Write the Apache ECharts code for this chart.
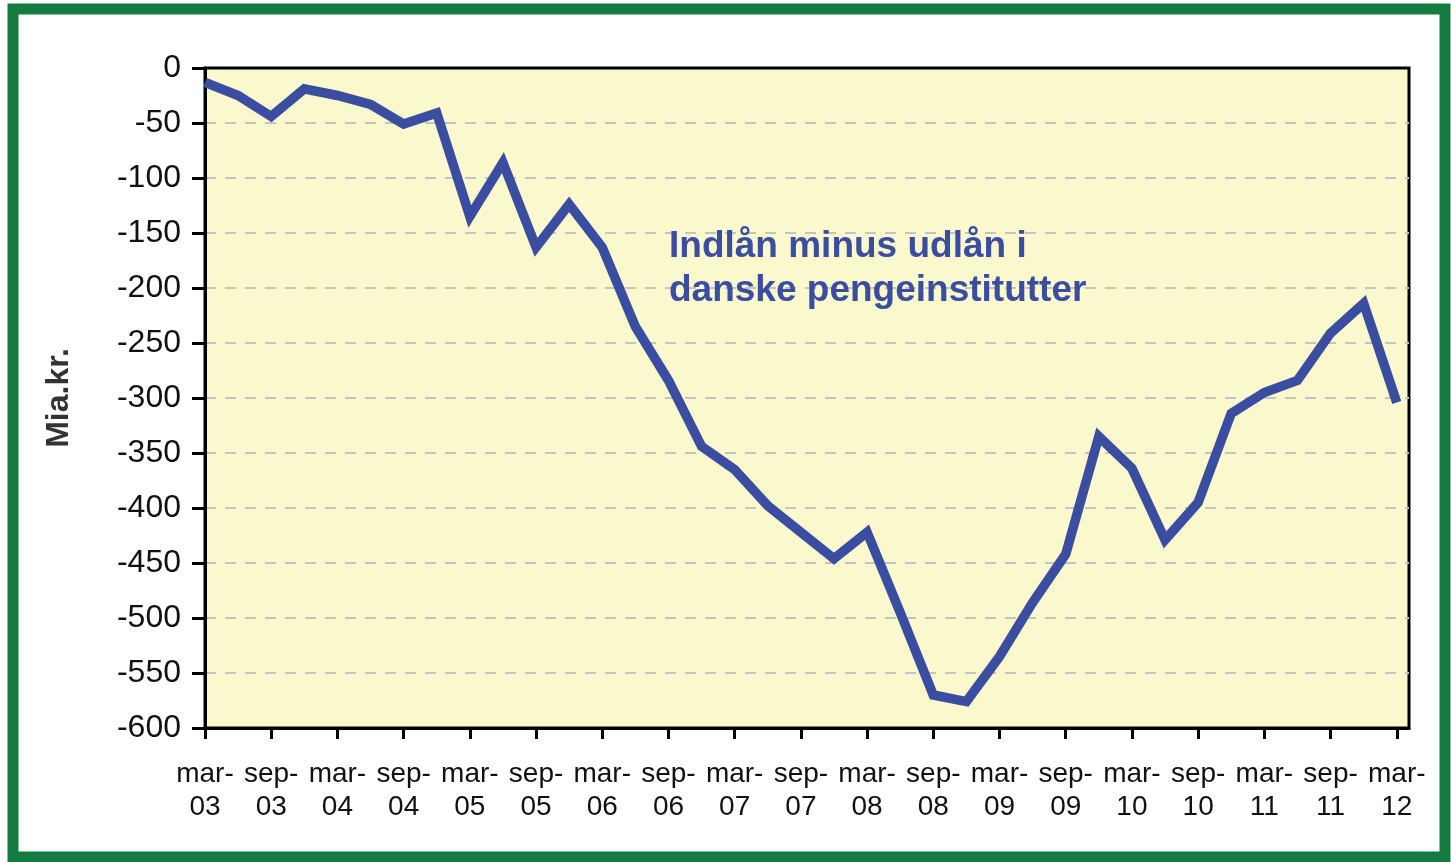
<!DOCTYPE html>
<html>
<head>
<meta charset="utf-8">
<title>Indlån minus udlån</title>
<script src="https://cdn.jsdelivr.net/npm/echarts@6/dist/echarts.min.js"></script>
<style>
  html, body { margin: 0; padding: 0; background: #fff; }
  #chart { width: 1451px; height: 862px; }
</style>
</head>
<body>
<div id="chart"></div>
<script>
// kvartalsdata, mar-03 .. mar-12 (Mia.kr.)
var values = [
  -13, -25, -44, -19, -25, -33, -51, -41, -135, -86,
  -163, -124, -163, -235, -284, -344, -365, -398, -422, -446,
  -422, -495, -570, -576, -535, -486, -442, -335, -364, -429,
  -395, -314, -295, -284, -241, -214, -304
];
// tick labels, one for every second quarter
var tickLabels = [
  "mar-\n03", "sep-\n03", "mar-\n04", "sep-\n04", "mar-\n05", "sep-\n05",
  "mar-\n06", "sep-\n06", "mar-\n07", "sep-\n07", "mar-\n08", "sep-\n08",
  "mar-\n09", "sep-\n09", "mar-\n10", "sep-\n10", "mar-\n11", "sep-\n11",
  "mar-\n12"
];
var seriesName = "Indlån minus udlån i danske pengeinstitutter";

var points = values.map(function (v, i) { return [i, v]; });
var tickPos = tickLabels.map(function (t, k) { return k * 2; });

var chart = echarts.init(document.getElementById("chart"));
chart.setOption({
  animation: false,
  textStyle: { fontFamily: "Liberation Sans, Arial, sans-serif" },
  grid: {
    left: 205,
    top: 68,
    width: 1204,
    height: 660,
    show: true,
    backgroundColor: "#FAF8CD",
    borderColor: "#000",
    borderWidth: 3
  },
  xAxis: {
    type: "value",
    min: 0,
    max: 36.37,
    interval: 2,
    axisLine: { show: true, onZero: false, lineStyle: { color: "#000", width: 3 } },
    axisTick: { show: true, length: 11, customValues: tickPos, lineStyle: { color: "#000", width: 3 } },
    splitLine: { show: false },
    axisLabel: {
      customValues: tickPos,
      margin: 30,
      fontSize: 28,
      lineHeight: 33,
      color: "#111",
      formatter: function (v) {
        var k = Math.round(v / 2);
        return (v % 2 === 0 && tickLabels[k]) ? tickLabels[k] : "";
      }
    }
  },
  yAxis: {
    type: "value",
    min: -600,
    max: 0,
    interval: 50,
    name: "Mia.kr.",
    nameLocation: "middle",
    nameGap: 130,
    nameTextStyle: { fontSize: 32, fontWeight: "bold", color: "#333" },
    axisLine: { show: true, lineStyle: { color: "#000", width: 3 } },
    axisTick: { show: true, length: 13, lineStyle: { color: "#000", width: 3 } },
    axisLabel: { margin: 24, fontSize: 32, color: "#111" },
    splitLine: {
      show: true,
      showMinLine: false,
      showMaxLine: false,
      lineStyle: { color: "#C4C4C4", width: 2, type: [11, 9] }
    }
  },
  series: [
    {
      name: seriesName,
      type: "line",
      data: points,
      symbol: "none",
      lineStyle: { color: "#3A4DA0", width: 9.5, join: "miter" },
      z: 3
    }
  ],
  graphic: [
    {
      type: "rect",
      shape: { x: 13, y: 9, width: 1432, height: 848 },
      style: { fill: null, stroke: "#137B3F", lineWidth: 11 },
      silent: true
    },
    {
      type: "text",
      x: 669,
      y: 225,
      z: 10,
      style: {
        text: "Indlån minus udlån i\ndanske pengeinstitutter",
        font: "bold 37px Liberation Sans, Arial, sans-serif",
        lineHeight: 44,
        fill: "#3A4DA0",
        verticalAlign: "top"
      }
    }
  ]
});
</script>
</body>
</html>
